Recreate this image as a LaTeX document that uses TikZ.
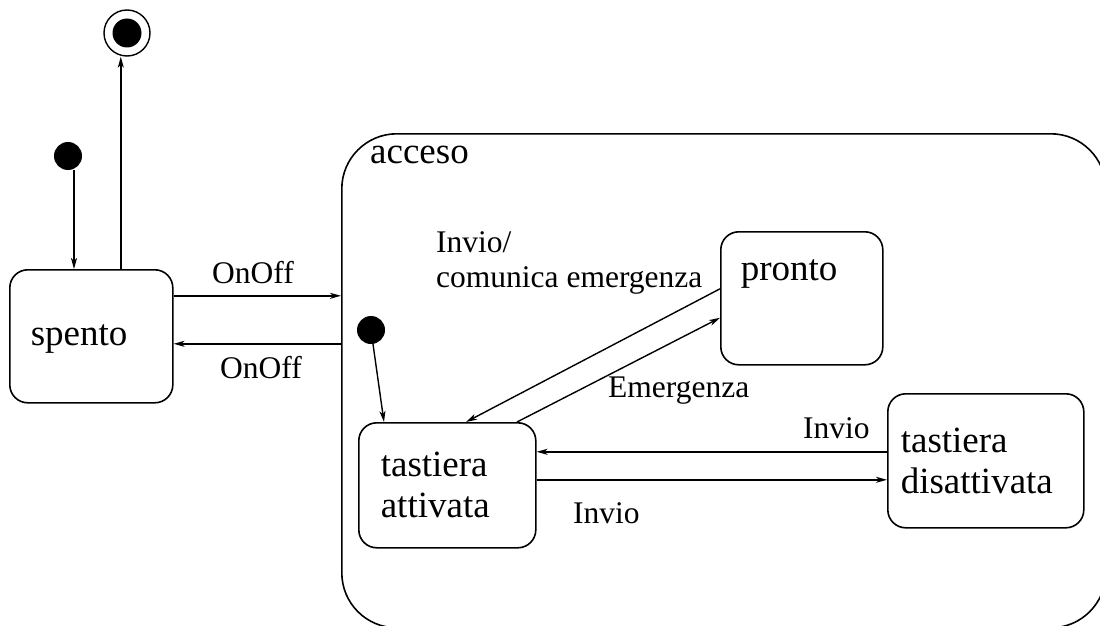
\documentclass[tikz,border=0pt]{standalone}
\usepackage{fontspec}
\setmainfont{Liberation Serif}
\usetikzlibrary{arrows.meta}
\tikzset{
  statebox/.style={draw, line width=1.6pt, rounded corners=18pt, anchor=north west,
    align=left, inner ysep=0pt, font=\fontsize{37}{41}\selectfont},
  lbl/.style={inner sep=0pt, align=left, font=\fontsize{31.5}{35}\selectfont},
  trans/.style={line width=1.4pt, -{Stealth[length=11pt,width=6pt,inset=3pt]}},
  initdot/.style={circle, fill, inner sep=0pt, minimum size=28pt},
}
\begin{document}
\begin{tikzpicture}[x=1pt,y=-1pt]
\useasboundingbox (0,0) rectangle (1100,626);
% states
\node[statebox, rounded corners=55pt, minimum width=764pt, minimum height=494pt] (acceso) at (341,133) {};
\node[anchor=base west, inner sep=0pt, font=\fontsize{37}{41}\selectfont] (accesolbl) at (370,163) {acceso};
\node[statebox, text width=121pt, inner xsep=21pt, text height=76pt, text depth=57pt] (spento) at (9,269) {spento};
\node[statebox, text width=122pt, inner xsep=20pt, text height=49pt, text depth=84pt] (pronto) at (720,231) {pronto};
\node[statebox, text width=133pt, inner xsep=22pt, minimum height=125pt] (ta) at (358,422) {tastiera\\attivata};
\node[statebox, text width=170pt, inner xsep=13pt, minimum height=134pt] (td) at (887,393) {tastiera\\disattivata};
\node[initdot] (init1) at (68,156) {};
\node[initdot] (init2) at (371,330) {};
\node[circle, draw, line width=1.4pt, minimum size=46pt, inner sep=0pt,
  path picture={\fill (path picture bounding box.center) circle (14.5pt);}] (fin) at (127,33) {};
% transitions
\draw[trans] ([xshift=6pt]init1.south) -- ([xshift=6pt]init1.south |- spento.north);
\draw[trans] ([xshift=29.5pt]spento.north) coordinate (s1) -- (s1 |- fin.south);
\coordinate (o1) at ([yshift=40.5pt]spento.east);
\coordinate (o2) at ([yshift=-7.5pt]spento.east);
\draw[trans] (o1) -- (o1 -| acceso.west);
\draw[trans] (o2 -| acceso.west) -- (o2);
\draw[trans] (init2) -- ([xshift=26pt]ta.north west);
\draw[trans] ([yshift=9.5pt]pronto.west) -- ([xshift=108pt]ta.north west);
\draw[trans] ([xshift=159pt]ta.north west) -- ([yshift=-19.5pt]pronto.west);
\coordinate (i1) at ([yshift=9pt]td.west);
\coordinate (i2) at ([yshift=5.5pt]ta.east);
\draw[trans] (i1) -- (i1 -| ta.east);
\draw[trans] (i2) -- (i2 -| td.west);
% labels
\node[lbl, anchor=base west] (onoff1) at (212,283) {OnOff};
\node[lbl, anchor=base west] (onoff2) at (220,378) {OnOff};
\node[lbl, anchor=north west] (comunica) at (436,231) {Invio/\\comunica emergenza};
\node[lbl, anchor=base west] (emerg) at (608,397) {Emergenza};
\node[lbl, anchor=base west] (invio1) at (803,438) {Invio};
\node[lbl, anchor=base west] (invio2) at (573,523) {Invio};
\end{tikzpicture}
\end{document}
